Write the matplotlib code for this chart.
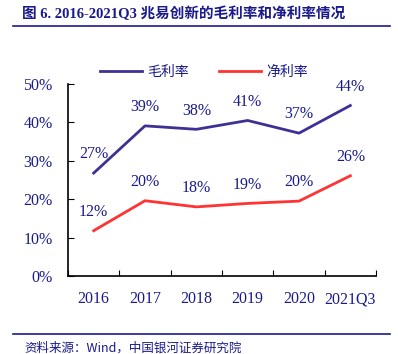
import matplotlib.pyplot as plt
from matplotlib.lines import Line2D

plt.rcParams['font.family'] = ['Liberation Serif', 'Noto Sans CJK SC']

years = ['2016', '2017', '2018', '2019', '2020', '2021Q3']
gross = [26.8, 39.1, 38.2, 40.5, 37.2, 44.4]
net = [11.8, 19.6, 18.0, 18.9, 19.5, 26.1]
gross_lbl = ['27%', '39%', '38%', '41%', '37%', '44%']
net_lbl = ['12%', '20%', '18%', '19%', '20%', '26%']

navy = '#1a1a8c'
c_gross = '#3d3195'
c_net = '#ff3333'
fs = 11.5

fig = plt.figure(figsize=(3.98, 3.54), dpi=100)
ax = fig.add_axes([68/398, 1-276/354, 308/398, 192/354])

x = list(range(len(years)))
ax.plot(x, gross, color=c_gross, lw=2)
ax.plot(x, net, color=c_net, lw=2)
for i in x:
    ax.annotate(gross_lbl[i], (i, gross[i]), xytext=(0, 13.5), textcoords='offset points',
                ha='center', va='center', color=navy, fontsize=fs)
    ax.annotate(net_lbl[i], (i, net[i]), xytext=(0, 13.5), textcoords='offset points',
                ha='center', va='center', color=navy, fontsize=fs)

ax.set_xlim(-0.5, 5.5)
ax.set_ylim(0, 50)
ax.set_yticks(range(0, 51, 10))
ax.set_yticklabels([f'{v}%' for v in range(0, 51, 10)], color=navy, fontsize=fs)
ax.set_xticks([i + 0.5 for i in range(-1, 6)])
ax.set_xticklabels([])
ax.set_xticks(x, minor=True)
ax.set_xticklabels(years, minor=True, color=navy, fontsize=fs)
ax.tick_params(axis='x', which='minor', length=0, pad=11)
ax.tick_params(axis='x', which='major', length=4, direction='in')
ax.tick_params(axis='y', length=4, direction='in', pad=11)
ax.spines['top'].set_visible(False)
ax.spines['right'].set_visible(False)
for s in ['left', 'bottom']:
    ax.spines[s].set_linewidth(1.2)

h = [Line2D([], [], color=c_gross, lw=2), Line2D([], [], color=c_net, lw=2)]
fig.legend(h, ['毛利率', '净利率'], loc='center', bbox_to_anchor=(204/398, 1-72/354),
           ncol=2, frameon=False, prop={'family': 'Noto Sans CJK SC', 'size': 10},
           labelcolor=navy, handlelength=3.0, columnspacing=2.2, handletextpad=0.4)

fig.text(22/398, 1-14/354, '图 6. 2016-2021Q3 兆易创新的毛利率和净利率情况',
         fontsize=10.5, fontweight='bold', color=navy, va='center', ha='left',
         family=['Liberation Serif', 'Noto Sans CJK SC'])
fig.add_artist(Line2D([13/398, 390/398], [1-26/354, 1-26/354], color=navy, lw=1.2))
fig.add_artist(Line2D([13/398, 390/398], [1-334/354, 1-334/354], color=navy, lw=1.2))
fig.text(24/398, 1-348/354, '资料来源：Wind，中国银河证券研究院', fontsize=9,
         style='italic', color=navy, va='center', ha='left',
         family=['Noto Sans CJK SC', 'Liberation Serif'])

fig.savefig('out.png', dpi=100)
